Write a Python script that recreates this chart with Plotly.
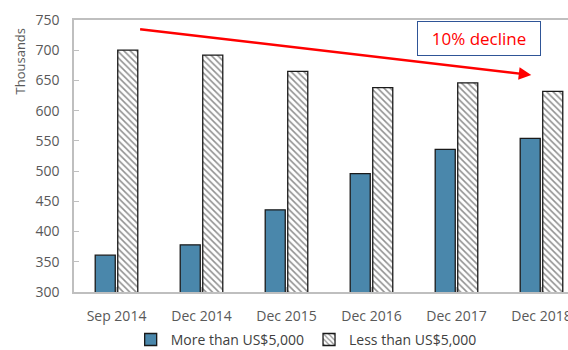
import plotly.graph_objects as go

categories = ["Sep 2014", "Dec 2014", "Dec 2015", "Dec 2016", "Dec 2017", "Dec 2018"]
more_than_5000 = [361, 378, 436, 496, 536, 554]
less_than_5000 = [700, 692, 665, 638, 646, 632]
series_names = ["More than US$5,000", "Less than US$5,000"]
y_ticks = [300, 350, 400, 450, 500, 550, 600, 650, 700, 750]

FONT = "Open Sans"
fig = go.Figure()
fig.add_bar(x=list(range(len(categories))), y=more_than_5000, name=series_names[0],
            marker=dict(color="#4A87AB", line=dict(color="#1a1a1a", width=1.3)))
fig.add_bar(x=list(range(len(categories))), y=less_than_5000, name=series_names[1],
            marker=dict(color="white", line=dict(color="#1a1a1a", width=1.3),
                        pattern=dict(shape="\\", fgcolor="#222222", bgcolor="white",
                                     size=4.5, solidity=0.35)))

# trend arrow
fig.add_annotation(x=4.88, y=659, ax=0.26, ay=735, axref="x", ayref="y", xref="x", yref="y",
                   text="", showarrow=True, arrowhead=2, arrowsize=1, arrowwidth=2.5,
                   arrowcolor="#FF0000")
# decline label box
fig.add_annotation(x=4.26, y=719, xref="x", yref="y", text="10% decline", showarrow=False,
                   font=dict(family=FONT, size=17, color="#FF0000"),
                   bordercolor="#2F5597", borderwidth=1, borderpad=0,
                   width=122, height=33, bgcolor="white")
# y title
fig.add_annotation(xref="paper", yref="paper", x=-0.11, y=0.975, text="Thousands",
                   textangle=-90, showarrow=False, xanchor="center", yanchor="top",
                   font=dict(family=FONT, size=13, color="#595959"))

fig.update_layout(
    width=568, height=350,
    margin=dict(l=74, r=0, t=20, b=58, autoexpand=False),
    plot_bgcolor="white", paper_bgcolor="white",
    barmode="group", bargap=0.47, bargroupgap=0.11,
    showlegend=True,
    legend=dict(orientation="h", x=0.47, xanchor="center", y=-0.235, yanchor="bottom",
                font=dict(family=FONT, size=14, color="#404040"),
                itemwidth=30, traceorder="normal", tracegroupgap=0),
    font=dict(family=FONT, size=14, color="#595959"),
)
fig.update_xaxes(tickvals=list(range(len(categories))), ticktext=categories,
                 range=[-0.5, 5.312], showline=True, linecolor="#BFBFBF", linewidth=1.5,
                 mirror=True, ticks="inside", tickson="boundaries", ticklen=5,
                 tickcolor="#BFBFBF", showgrid=False, ticklabelstandoff=10,
                 ticklabeloverflow="allow", automargin=False,
                 tickfont=dict(family=FONT, size=14, color="#595959"))
fig.update_yaxes(range=[300, 750], tickvals=y_ticks, showline=True, linecolor="#BFBFBF",
                 linewidth=1.5, ticks="inside", ticklen=5, tickcolor="#BFBFBF",
                 showgrid=False, zeroline=False, ticklabelstandoff=10, automargin=False,
                 tickfont=dict(family=FONT, size=14, color="#595959"))

fig.write_html("out.html", config={"displayModeBar": False},
               post_script="document.body.style.margin='0';document.body.style.overflow='hidden';")
